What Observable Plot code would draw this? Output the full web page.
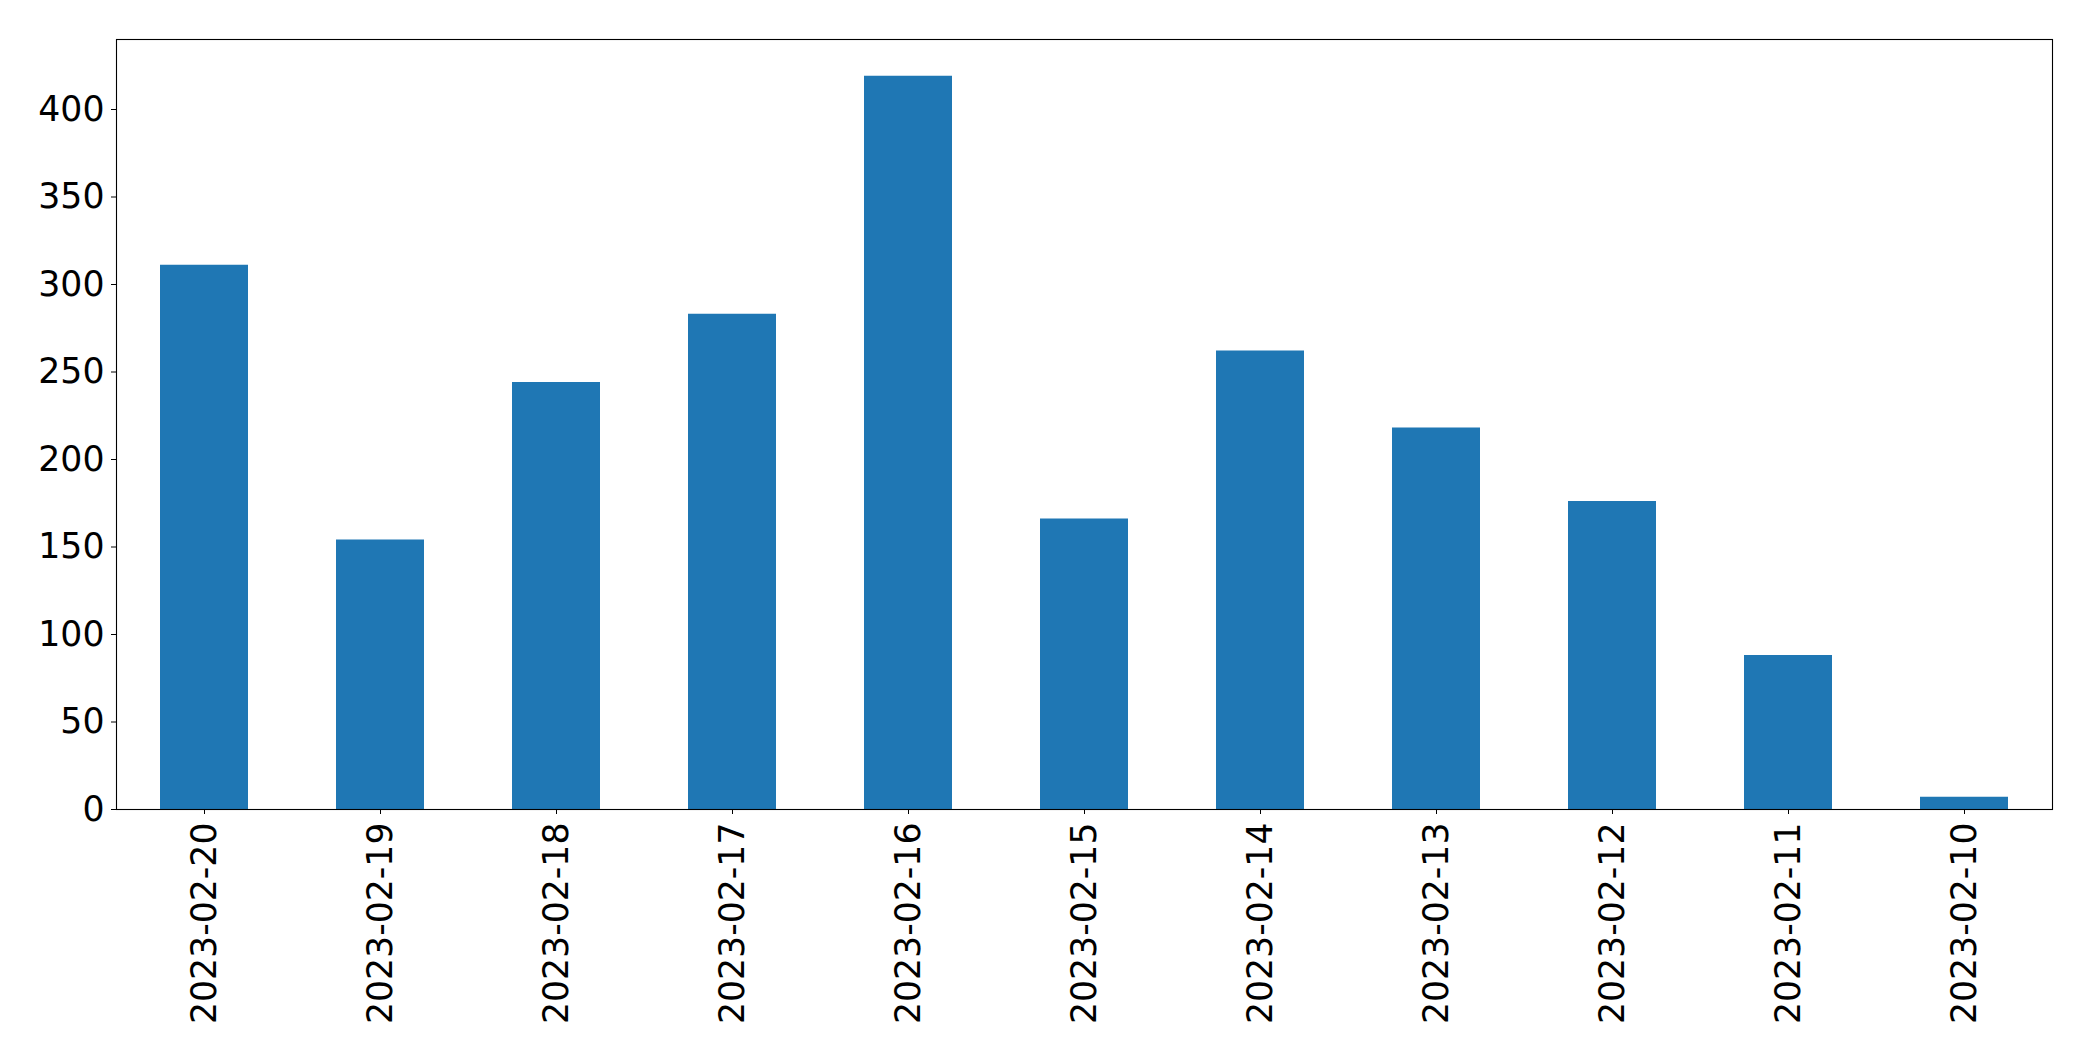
<!DOCTYPE html>
<html><head><meta charset="utf-8">
<script src="https://cdn.jsdelivr.net/npm/d3@7"></script>
<script src="https://cdn.jsdelivr.net/npm/@observablehq/plot@0.6"></script>
<style>body{margin:0;background:#fff;} svg{display:block;}</style>
</head><body><div id="chart"></div>
<script>
const dates = ["2023-02-20","2023-02-19","2023-02-18","2023-02-17","2023-02-16","2023-02-15","2023-02-14","2023-02-13","2023-02-12","2023-02-11","2023-02-10"];
const counts = [311, 154, 244, 283, 419, 166, 262, 218, 176, 88, 7];
const yTicks = [0, 50, 100, 150, 200, 250, 300, 350, 400];
const yDomain = [0, 440];

const data = dates.map((d, i) => ({date: d, count: counts[i]}));

const chart = Plot.plot({
  width: 2093,
  height: 1061,
  marginLeft: 116,
  marginRight: 41,
  marginTop: 39,
  marginBottom: 252,
  style: {fontFamily: "'DejaVu Sans', sans-serif", background: "white", color: "black"},
  x: {domain: dates, paddingInner: 0.5, paddingOuter: 0.25, label: null},
  y: {domain: yDomain, label: null},
  marks: [
    Plot.barY(data, {x: "date", y: "count", fill: "#1f77b4"}),
    Plot.frame({stroke: "black", strokeWidth: 1.1}),
    Plot.axisY(yTicks, {tickSize: 5, tickPadding: 7, fontSize: 34.7, label: null}),
    Plot.axisX({tickSize: 5, tickPadding: 8, tickRotate: -90, fontSize: 34.7, label: null})
  ]
});
document.getElementById("chart").appendChild(chart);
</script>
</body></html>
